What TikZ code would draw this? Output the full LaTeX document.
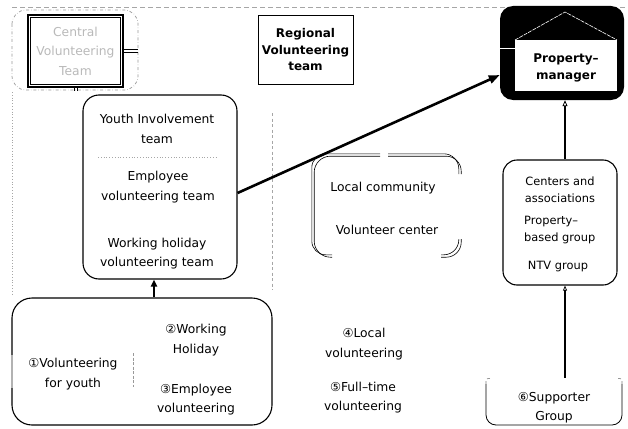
\documentclass[tikz,border=0pt]{standalone}
\usepackage{fontspec}
\setmainfont{DejaVu Sans}
\usetikzlibrary{arrows.meta}
\begin{document}
\begin{tikzpicture}[x=1pt,y=-1pt,
  txt/.style={align=center, inner sep=0pt, font=\fontsize{12.3}{19.5}\selectfont},
  smalltxt/.style={align=center, inner sep=0pt, font=\fontsize{11.4}{16.5}\selectfont},
  boxline/.style={draw, line width=1.1pt, rounded corners=#1},
  guide/.style={draw=gray!70, line width=0.8pt},
  twoline/.style={draw=black, line width=0.6pt},
]
\useasboundingbox (0,0) rectangle (628,428);

% guide lines
\draw[guide, dash pattern=on 5pt off 3pt] (12,7) -- (626,7);
\draw[guide, dotted] (12,92) -- (12,295);
\draw[guide, dash pattern=on 3pt off 2.5pt] (272,113) -- (272,290);

% central team: framed box inside a dash-dotted rounded outline
\draw[gray!80, dash dot, line width=0.7pt, rounded corners=14pt] (12,10) rectangle (138,90);
\node[draw=black, line width=1.5pt, minimum width=95pt, minimum height=72pt, txt, text=gray!55] (central)
  at (75.5,51) {Central\\Volunteering\\Team};
\draw[black, line width=0.6pt] ([xshift=3pt,yshift=-3pt]central.north west)
  rectangle ([xshift=-3pt,yshift=3pt]central.south east);
\draw[black, line width=0.6pt] (central.east) ++(0,-1.2) -- (138,49.8);
\draw[black, line width=0.6pt] (central.east) ++(0,1.2) -- (138,52.2);
\draw[black, line width=0.6pt] (central.south) ++(-1.5,0) -- ++(0,3);
\draw[black, line width=0.6pt] (central.south) ++(1.5,0) -- ++(0,3);

% regional team
\node[draw, line width=0.9pt, minimum width=95pt, minimum height=69pt, align=center, inner sep=0pt,
  font=\fontsize{12}{16.5}\selectfont\bfseries] (regional) at (305.5,50) {Regional\\Volunteering\\team};

% property manager
\node[fill=black, rounded corners=13pt, minimum width=124pt, minimum height=94pt] (pm) at (562,53) {};
\fill[white] (515,40) rectangle (617,91);
\draw[white, line width=0.6pt, dash pattern=on 4pt off 1pt] (515,40) -- (565,12) -- (617,40);
\draw[white, line width=1pt] (500,49) -- (515,49);
\node[align=center, inner sep=0pt, font=\fontsize{12}{17}\selectfont\bfseries] (pmtext) at (566,68)
  {Property–\\manager};

% youth box
\node[boxline=16pt, minimum width=154pt, minimum height=184pt] (youth) at (160,187) {};
\node[txt] (youthtxt) at (157,129) {Youth Involvement\\team};
\draw[guide, dotted] (98,157) -- (218,157);
\node[txt] (emptxt) at (158,187) {Employee\\volunteering team};
\node[txt] (whtxt) at (157,253.5) {Working holiday\\volunteering team};

% local community box, outlined with a pair of thin lines
\foreach \d in {-1.2,1.2} {
  \draw[twoline, rounded corners=15pt+\d pt] (332,256+\d) -- (313+\d,256+\d) -- (313+\d,155+\d) -- (380,155+\d);
  \draw[twoline, rounded corners=15pt] (388,155+\d) -- (460+\d,155+\d) -- (460+\d,174);
  \draw[twoline, rounded corners=15pt] (460+\d,239) -- (460+\d,256+\d) -- (441,256+\d);
}
\node[txt] (localtxt) at (383,188) {Local community};
\node[txt] (vctxt) at (387,230) {Volunteer center};

% centers box
\node[boxline=14pt, minimum width=114pt, minimum height=125pt] (centers) at (560,222.5) {};
\node[smalltxt] (cat) at (560,189.5) {Centers and\\associations};
\node[smalltxt, align=left, anchor=west] (pbg) at (524,230) {Property–\\based group};
\node[smalltxt] (ntv) at (558,267) {NTV group};

% bottom box
\node[boxline=20pt, minimum width=260pt, minimum height=127pt] (bottom) at (142,361.5) {};
\draw[gray!60, line width=1.6pt] (12,355) -- (12,388);
\draw[gray!80, line width=0.7pt, dash pattern=on 3pt off 1.5pt] (133,353) -- (133,387);
\node[txt] (v1) at (73,374) {①Volunteering\\for youth};
\node[txt] (v2) at (196,340) {②Working\\Holiday};
\node[txt] (v3) at (196,399.5) {③Employee\\volunteering};

% free-standing labels
\node[txt] (v4) at (364,344) {④Local\\volunteering};
\node[txt] (v5) at (363,397.5) {⑤Full–time\\volunteering};

% supporter group
\node[minimum width=136pt, minimum height=48pt, inner sep=0pt] (supp) at (554,402) {};
\draw[line width=0.8pt, rounded corners=10pt] (486,384) -- (486,425) -- (622,425) -- (622,384);
\draw[gray, line width=0.6pt, dashed] (486,384) -- (486,379) -- (492,378);
\draw[gray, line width=0.6pt, dashed] (622,384) -- (622,379) -- (616,378);
\node[txt] (v6) at (554,407.5) {⑥Supporter\\Group};

% connectors
\draw[line width=2.6pt, -{Triangle[length=11pt,width=8pt]}]
  ([yshift=-6pt]youth.east) -- ([yshift=-22pt]pm.west);
\draw[line width=2.2pt, -{Triangle[length=7pt,width=6pt]}]
  ([xshift=12pt]bottom.north) -- ([xshift=12pt]bottom.north |- youth.south);
\draw[line width=2.2pt, -{Triangle[open,length=6pt,width=5pt,line width=0.8pt]}]
  ([xshift=5pt]centers.north) -- ([xshift=5pt]centers.north |- pm.south);
\draw[line width=1.1pt, -{Triangle[open,length=5pt,width=4pt,line width=0.7pt]}]
  ([xshift=11pt]supp.north) -- ([xshift=11pt]supp.north |- centers.south);
\end{tikzpicture}
\end{document}
